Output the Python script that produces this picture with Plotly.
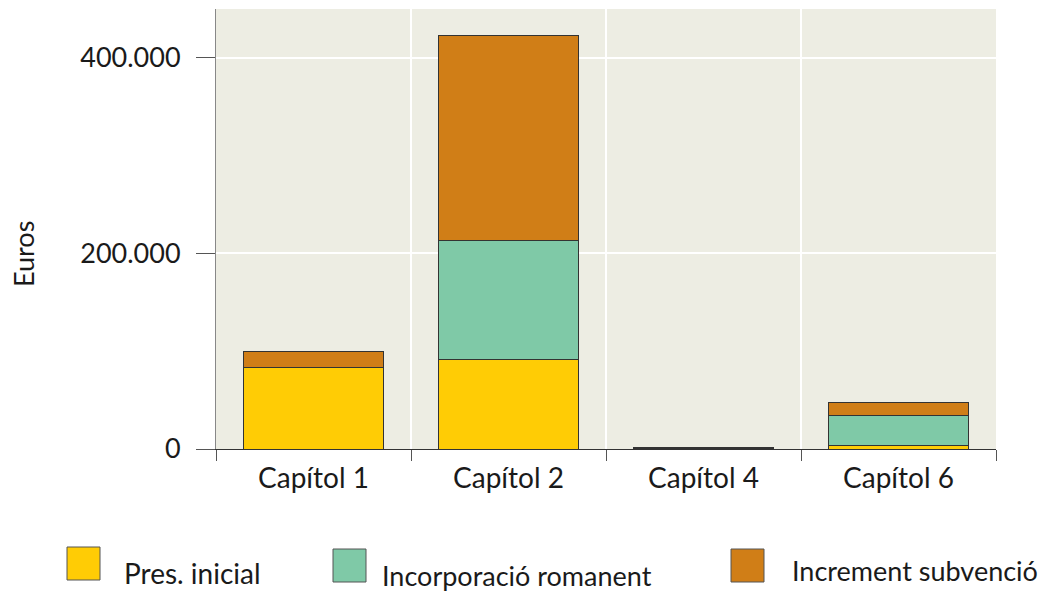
import plotly.graph_objects as go

categories = ["Capítol 1", "Capítol 2", "Capítol 4", "Capítol 6"]
pres_inicial = [83600, 91400, 800, 3800]
incorporacio_romanent = [0, 121700, 0, 30000]
increment_subvencio = [15900, 209400, 1200, 14000]
series_names = ["Pres. inicial", "Incorporació romanent", "Increment subvenció"]
series_colors = ["#FFCC05", "#7FC9A7", "#D07E17"]
y_ticks = [0, 200000, 400000]

# page has an 8px body margin; size figure to fill the rest of the window
OFF = 8
W, H = 1049 - OFF, 595 - OFF
PL, PR, PT, PB = 216, 996, 9, 449   # plot area in page pixels
L, R, T, B = PL - OFF, W - (PR - OFF), PT - OFF, H - (PB - OFF)
FONT = "Lato"

fig = go.Figure()
for name, vals, col in zip(series_names,
                           [pres_inicial, incorporacio_romanent, increment_subvencio],
                           series_colors):
    fig.add_trace(go.Bar(x=categories, y=vals, name=name, marker_color=col,
                         marker_line=dict(color="#333333", width=1),
                         width=0.72, showlegend=False))

def px_x(p):
    return (p - PL) / (PR - PL)

def px_y(p):
    return (PB - p) / (PB - PT)

# custom legend (page pixel positions: square x/y, text x/y, text size)
legend_items = [
    (67, 547, 122, 573, 28),
    (333, 549, 380, 575, 27),
    (731, 549, 790, 570, 27),
]
for (sx, sy, tx, ty, fs), name, col in zip(legend_items, series_names, series_colors):
    fig.add_shape(type="rect", xref="paper", yref="paper",
                  x0=px_x(sx), x1=px_x(sx + 33), y0=px_y(sy), y1=px_y(sy + 33),
                  fillcolor=col, line=dict(color="#555555", width=1))
    fig.add_annotation(xref="paper", yref="paper", x=px_x(tx), y=px_y(ty),
                       text=name, showarrow=False, xanchor="left", yanchor="middle",
                       font=dict(family=FONT, size=fs, color="#1a1a1a"))

fig.add_annotation(xref="paper", yref="paper", x=px_x(23), y=px_y(254),
                   text="Euros", textangle=-90, showarrow=False,
                   xanchor="center", yanchor="middle",
                   font=dict(family=FONT, size=27, color="#1a1a1a"))

fig.update_layout(
    width=W, height=H,
    margin=dict(l=L, r=R, t=T, b=B, autoexpand=False),
    barmode="stack",
    plot_bgcolor="#EDEDE3",
    paper_bgcolor="white",
    separators=",.",
    font=dict(family=FONT, size=27, color="#1a1a1a"),
    xaxis=dict(showgrid=True, gridcolor="white", gridwidth=2, tickson="boundaries",
               ticks="outside", ticklen=11, tickcolor="#555555",
               showline=True, linecolor="#333333", linewidth=1,
               ticklabelstandoff=4,
               tickfont=dict(size=28)),
    yaxis=dict(range=[0, 450000], tickvals=y_ticks, tickformat=",d",
               showgrid=True, gridcolor="white", gridwidth=2, zeroline=False,
               ticks="outside", ticklen=19, tickcolor="#555555",
               showline=True, linecolor="#888888", linewidth=1,
               ticklabelstandoff=10,
               tickfont=dict(size=27)),
)

fig.write_html("out.html")
